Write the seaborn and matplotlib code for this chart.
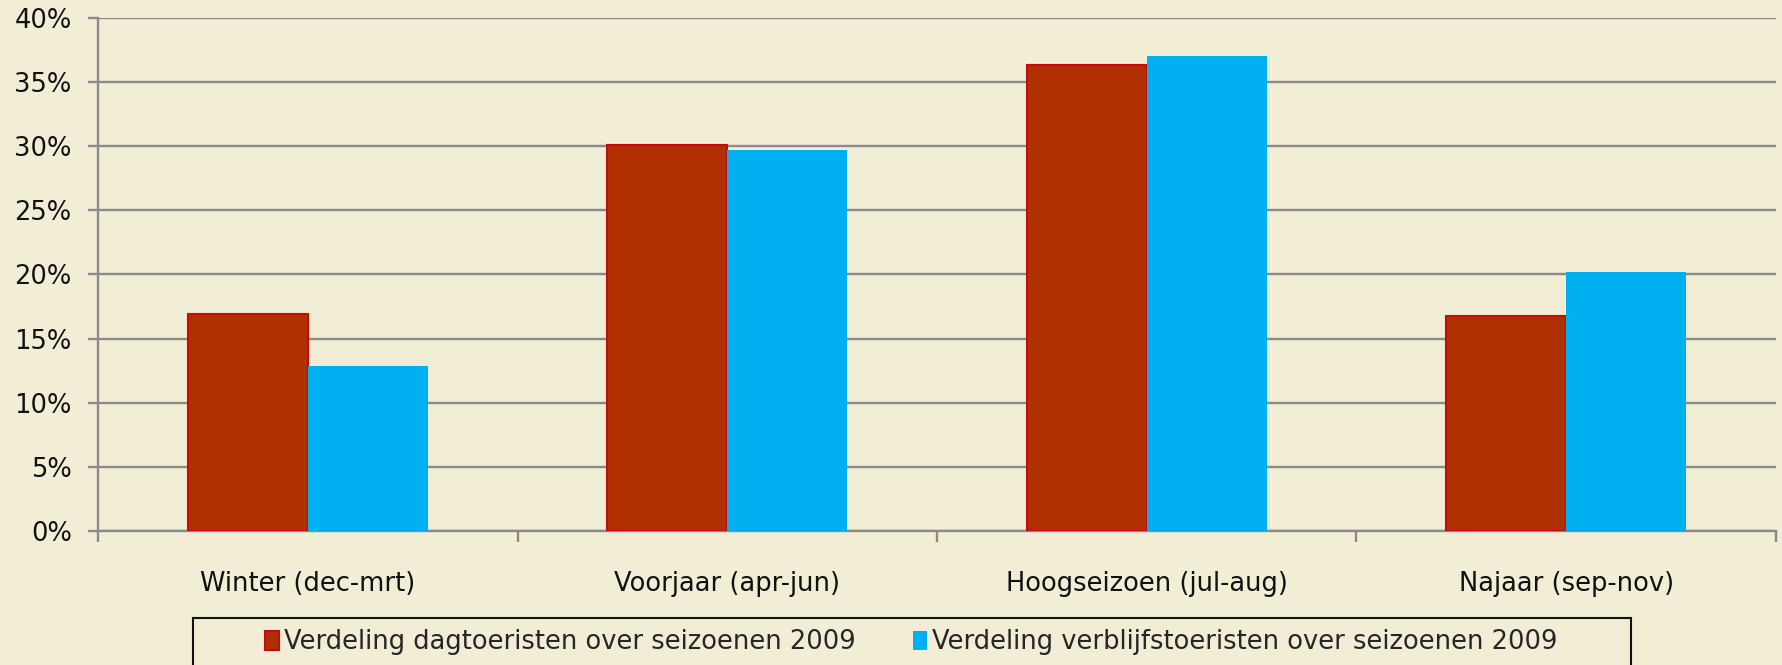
import pandas as pd
import numpy as np
import seaborn as sns
import matplotlib.pyplot as plt
from matplotlib.ticker import PercentFormatter, FixedLocator

seizoenen = ["Winter (dec-mrt)", "Voorjaar (apr-jun)", "Hoogseizoen (jul-aug)", "Najaar (sep-nov)"]
dagtoeristen = [16.9, 30.1, 36.3, 16.8]
verblijfstoeristen = [12.9, 29.7, 37.0, 20.2]
reeksen = ["Verdeling dagtoeristen over seizoenen 2009",
           "Verdeling verblijfstoeristen over seizoenen 2009"]

df = pd.DataFrame({
    "seizoen": seizoenen * 2,
    "aandeel": dagtoeristen + verblijfstoeristen,
    "reeks": [reeksen[0]] * 4 + [reeksen[1]] * 4,
})

bg = "#F2EDD5"
grid = "#8A8A8A"
rood = "#B03000"
blauw = "#00B0F0"
fs = 18.5

sns.set_theme(style="white", rc={"axes.facecolor": bg, "figure.facecolor": bg})
plt.rcParams["font.family"] = ["DejaVu Sans"]

fig = plt.figure(figsize=(17.83, 6.65), dpi=100)
ax = fig.add_axes([0.055, 0.2015, 0.941, 0.7715])

sns.barplot(data=df, x="seizoen", y="aandeel", hue="reeks", order=seizoenen,
            palette=[rood, blauw], saturation=1, width=0.573, gap=0, ax=ax,
            legend=False, zorder=3, linewidth=0)

for bar in ax.patches[:4]:
    bar.set_edgecolor("#C80A0A")
    bar.set_linewidth(1.5)

ax.set_xlim(-0.5, 3.5)
ax.set_ylim(0, 40)
ax.yaxis.set_major_locator(FixedLocator(np.arange(0, 41, 5)))
ax.yaxis.set_major_formatter(PercentFormatter(decimals=0))
ax.grid(axis="y", color=grid, linewidth=1.7, zorder=0)
ax.set_axisbelow(True)

ax.xaxis.set_minor_locator(FixedLocator(np.arange(-0.5, 4, 1)))
ax.tick_params(axis="x", which="major", length=0, pad=29, labelsize=fs, labelcolor="#111111")
ax.tick_params(axis="x", which="minor", length=8, width=1.7, color=grid, direction="out", bottom=True)
ax.tick_params(axis="y", length=7, width=1.7, color=grid, direction="out", left=True,
               labelsize=fs, labelcolor="#111111", pad=12)

for s in ["top", "right"]:
    ax.spines[s].set_visible(False)
for s in ["left", "bottom"]:
    ax.spines[s].set_color(grid)
    ax.spines[s].set_linewidth(1.7)

ax.set_xlabel("")
ax.set_ylabel("")

# legend box (wider than the entries, runs off the bottom edge)
fig.patches.append(plt.Rectangle((0.108, -0.05), 0.807, 0.1207, transform=fig.transFigure,
                                 facecolor=bg, edgecolor="#111111", linewidth=1.5))

handles = [plt.Rectangle((0, 0), 1, 1, facecolor=rood, edgecolor="#C80A0A", linewidth=1.5),
           plt.Rectangle((0, 0), 1, 1, facecolor=blauw, linewidth=0)]
leg = fig.legend(handles, reeksen, loc="center", bbox_to_anchor=(0.511, 0.034),
                 ncol=2, frameon=False, fontsize=fs,
                 handlelength=0.55, handleheight=0.75, handletextpad=0.2,
                 columnspacing=2.2, borderpad=0, borderaxespad=0)

fig.savefig("out.png", dpi=100, facecolor=bg)
